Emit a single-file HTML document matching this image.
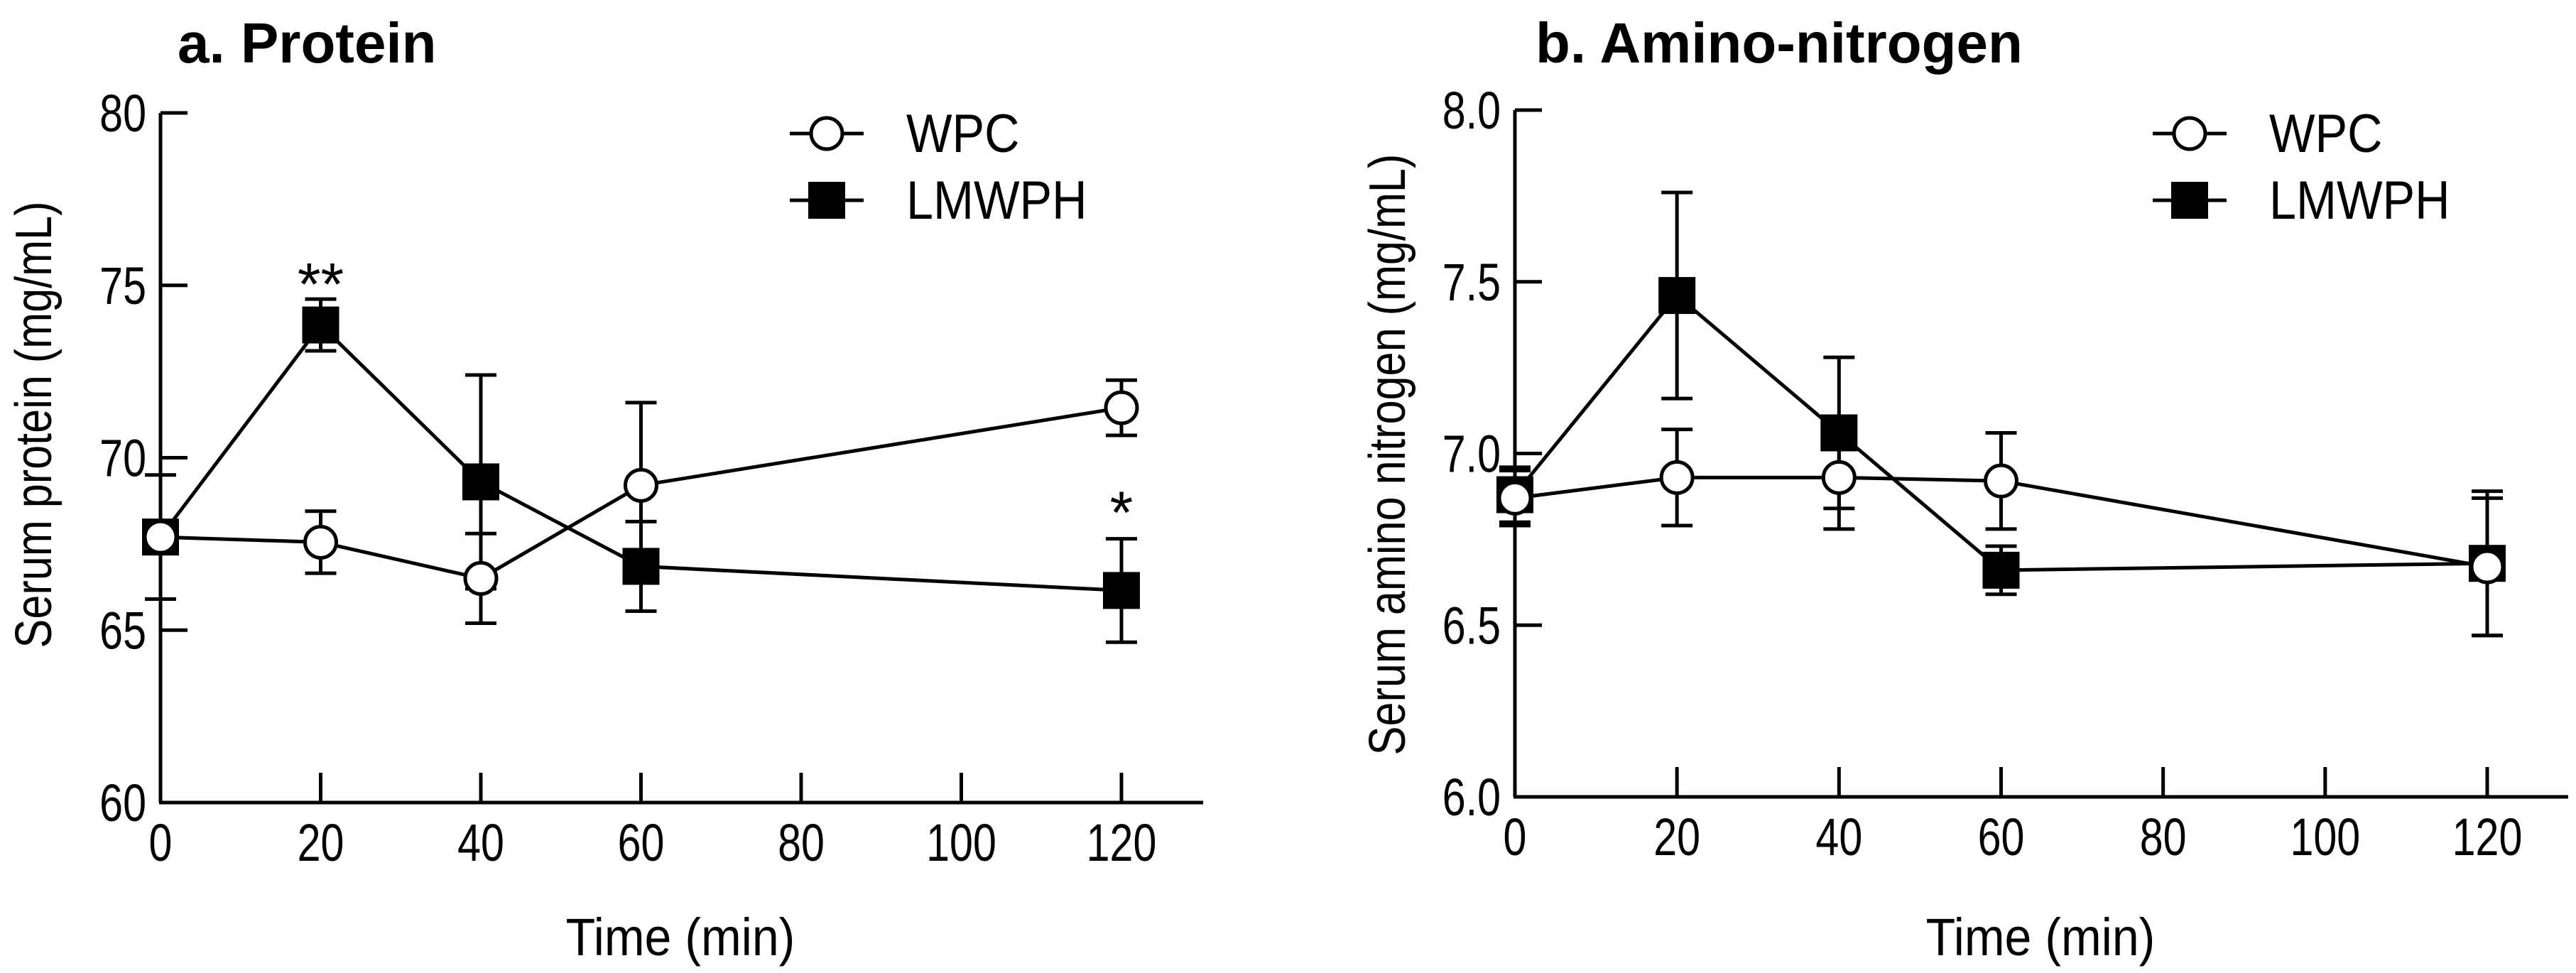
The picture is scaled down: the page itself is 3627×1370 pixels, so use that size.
<!DOCTYPE html>
<html><head><meta charset="utf-8"><style>
html,body{margin:0;padding:0;background:#fff}
svg{display:block}
text{font-family:"Liberation Sans",Arial,sans-serif;fill:#000}
</style></head><body>
<svg id="s" width="3627" height="1370" viewBox="0 0 3627 1370" xmlns="http://www.w3.org/2000/svg"></svg>
<script>
const times = [0, 20, 40, 60, 120];
const xTicks = [0, 20, 40, 60, 80, 100, 120];
const proteinWPC = [67.7, 67.55, 66.5, 69.2, 71.45];
const proteinWPCErr = [1.8, 0.9, 1.3, 2.4, 0.8];
const proteinLMWPH = [67.7, 73.85, 69.3, 66.85, 66.15];
const proteinLMWPHErr = [0.3, 0.75, 3.1, 1.3, 1.5];
const proteinTicks = [60, 65, 70, 75, 80];
const aminoWPC = [6.87, 6.93, 6.93, 6.92, 6.67];
const aminoWPCErr = [0.08, 0.14, 0.15, 0.14, 0.2];
const aminoLMWPH = [6.88, 7.46, 7.06, 6.66, 6.68];
const aminoLMWPHErr = [0.08, 0.3, 0.22, 0.07, 0.21];
const aminoTicks = [6.0, 6.5, 7.0, 7.5, 8.0];
const aminoTickLabels = ["6.0", "6.5", "7.0", "7.5", "8.0"];

const NS = "http://www.w3.org/2000/svg";
const svg = document.getElementById('s');
function mk(tag, attrs, parent) {
  const e = document.createElementNS(NS, tag);
  for (const k in attrs) e.setAttribute(k, attrs[k]);
  (parent || svg).appendChild(e);
  return e;
}
function stxt(str, x, y, size, sx, anchor, parent, rot, weight) {
  const tr = `translate(${x},${y})` + (rot ? ` rotate(${rot})` : '') + ` scale(${sx},1)`;
  const a = {x: 0, y: 0, 'font-size': size, 'text-anchor': anchor || 'start', transform: tr};
  if (weight) a['font-weight'] = weight;
  const e = mk('text', a, parent);
  e.textContent = str;
  return e;
}

function panel(cfg) {
  const g = mk('g', {});
  
  
  const X = v => cfg.x0 + (v - 0) / 120 * (cfg.x120 - cfg.x0);
  const Y = v => cfg.yBot - (v - cfg.ymin) / (cfg.ymax - cfg.ymin) * (cfg.yBot - cfg.yTop);
  const t = stxt(cfg.title, cfg.titleX, 88, 80, 1.0, 'start', g, 0, 'bold');
  
  
  const ya = mk('line', {x1: cfg.x0, y1: cfg.yTop, x2: cfg.x0, y2: cfg.yBot, stroke: '#000', 'stroke-width': 5}, g);
  
  
  const xa = mk('line', {x1: cfg.x0 - 2, y1: cfg.yBot, x2: cfg.xEnd, y2: cfg.yBot, stroke: '#000', 'stroke-width': 5}, g);
  
  
  cfg.yTicks.forEach((v, i) => {
    mk('line', {x1: cfg.x0, y1: Y(v), x2: cfg.x0 + 38, y2: Y(v), stroke: '#000', 'stroke-width': 5}, g);
    const l = stxt(cfg.yLabels[i], cfg.x0 - 20, Y(v) + 26, 74, 0.8, 'end', g);
    
    
  });
  xTicks.forEach(v => {
    if (v > 0) mk('line', {x1: X(v), y1: cfg.yBot, x2: X(v), y2: cfg.yBot - 42, stroke: '#000', 'stroke-width': 5}, g);
    const l = stxt(String(v), X(v), cfg.yBot + 82, 74, 0.8, 'middle', g);
    
    
  });
  const xt = stxt('Time (min)', cfg.xTitleX, 1345, 74, 0.92, 'middle', g);
  
  
  const yt = stxt(cfg.yTitle, cfg.yTitleX, cfg.yTitleY, 72, 0.85, 'middle', g, -90);
  
  

  function series(vals, errs, kind, nm) {
    const sg = mk('g', {}, g);
    
    
    vals.forEach((v, i) => {
      const x = X(times[i]);
      mk('line', {x1: x, y1: Y(v - errs[i]), x2: x, y2: Y(v + errs[i]), stroke: '#000', 'stroke-width': 5}, sg);
      mk('line', {x1: x - 22, y1: Y(v + errs[i]), x2: x + 22, y2: Y(v + errs[i]), stroke: '#000', 'stroke-width': 5}, sg);
      mk('line', {x1: x - 22, y1: Y(v - errs[i]), x2: x + 22, y2: Y(v - errs[i]), stroke: '#000', 'stroke-width': 5}, sg);
    });
    mk('polyline', {points: vals.map((v, i) => X(times[i]) + ',' + Y(v)).join(' '), fill: 'none', stroke: '#000', 'stroke-width': 5}, sg);
    vals.forEach((v, i) => {
      const x = X(times[i]), y = Y(v);
      let m;
      if (kind === 'circle') m = mk('ellipse', {cx: x, cy: y, rx: 22, ry: 22, fill: '#fff', stroke: '#000', 'stroke-width': 5}, sg);
      else m = mk('rect', {x: x - 26, y: y - 26, width: 52, height: 52, fill: '#000'}, sg);
      
      
    });
  }
  series(cfg.lm, cfg.lmErr, 'square', 'lmwph-series');
  series(cfg.wpc, cfg.wpcErr, 'circle', 'wpc-series');

  const lg = mk('g', {}, g);
  
  
  const lx = cfg.legX;
  mk('line', {x1: lx - 52, y1: 188, x2: lx + 52, y2: 188, stroke: '#000', 'stroke-width': 5}, lg);
  mk('ellipse', {cx: lx, cy: 188, rx: 22, ry: 22, fill: '#fff', stroke: '#000', 'stroke-width': 5}, lg);
  const w = stxt('WPC', lx + 112, 214, 76, 0.9, 'start', lg);
  
  
  mk('line', {x1: lx - 52, y1: 282, x2: lx + 52, y2: 282, stroke: '#000', 'stroke-width': 5}, lg);
  mk('rect', {x: lx - 26, y: 256, width: 52, height: 52, fill: '#000'}, lg);
  const l2 = stxt('LMWPH', lx + 112, 308, 76, 0.9, 'start', lg);
  
  
  return {X, Y, g};
}

const a = panel({name: 'protein-panel', title: 'a. Protein', titleX: 250, x0: 226, x120: 1579, xEnd: 1694, yTop: 159, yBot: 1130, ymin: 60, ymax: 80,
  yTicks: proteinTicks, yLabels: proteinTicks.map(String), yTitle: 'Serum protein (mg/mL)', yTitleX: 72, yTitleY: 598, xTitleX: 958,
  wpc: proteinWPC, wpcErr: proteinWPCErr, lm: proteinLMWPH, lmErr: proteinLMWPHErr, legX: 1164});
const s1 = stxt('**', a.X(20), a.Y(proteinLMWPH[1] + proteinLMWPHErr[1]) + 8, 84, 1, 'middle', a.g);


const s2 = stxt('*', a.X(120), a.Y(proteinLMWPH[4] + proteinLMWPHErr[4]) - 8, 84, 1, 'middle', a.g);



panel({name: 'amino-nitrogen-panel', title: 'b. Amino-nitrogen', titleX: 2162, x0: 2133, x120: 3502, xEnd: 3616, yTop: 155, yBot: 1122, ymin: 6.0, ymax: 8.0,
  yTicks: aminoTicks, yLabels: aminoTickLabels, yTitle: 'Serum amino nitrogen (mg/mL)', yTitleX: 1978, yTitleY: 640, xTitleX: 2873,
  wpc: aminoWPC, wpcErr: aminoWPCErr, lm: aminoLMWPH, lmErr: aminoLMWPHErr, legX: 3083});
</script>
</body></html>
